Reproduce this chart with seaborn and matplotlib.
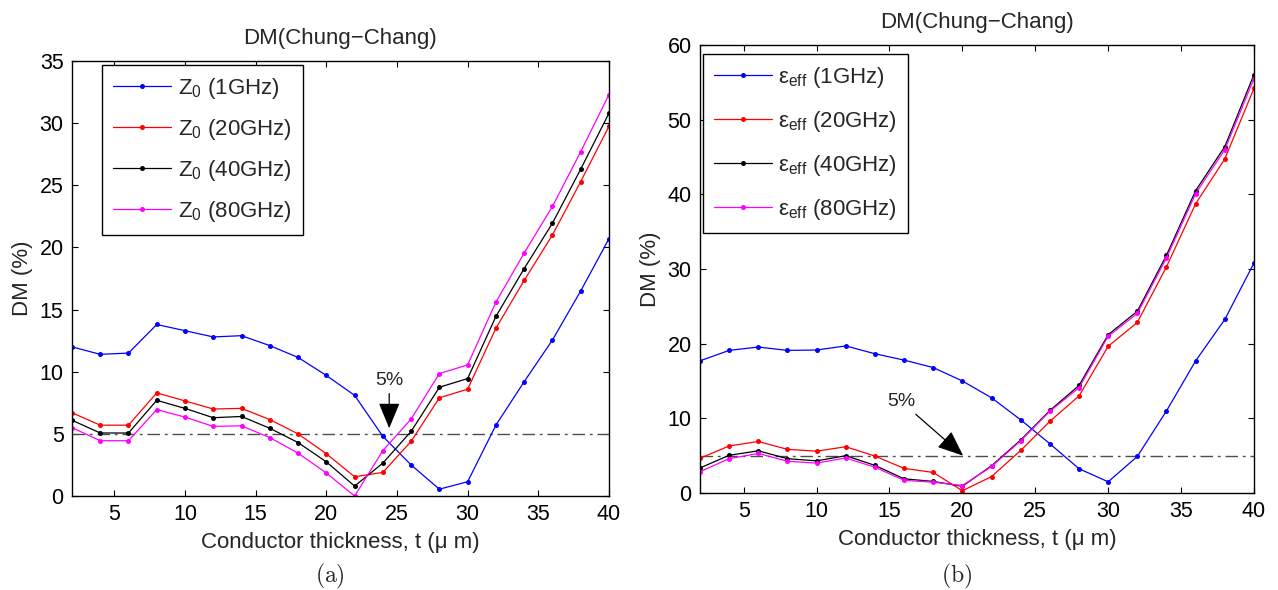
import matplotlib
matplotlib.use("Agg")
import matplotlib.pyplot as plt
import seaborn as sns

# ---------------- data ----------------
thickness = [2, 4, 6, 8, 10, 12, 14, 16, 18, 20, 22, 24, 26, 28, 30, 32, 34, 36, 38, 40]

z0_1ghz = [12.0, 11.4, 11.5, 13.8, 13.3, 12.8, 12.9, 12.1, 11.15, 9.7, 8.1,
           4.8, 2.5, 0.55, 1.15, 5.7, 9.2, 12.55, 16.5, 20.7]
z0_20ghz = [6.7, 5.7, 5.7, 8.3, 7.65, 7.0, 7.05, 6.15, 5.0, 3.4, 1.55,
            1.9, 4.4, 7.9, 8.6, 13.5, 17.35, 21.0, 25.3, 29.75]
z0_40ghz = [6.1, 5.07, 5.07, 7.7, 7.05, 6.3, 6.4, 5.45, 4.3, 2.75, 0.8,
            2.65, 5.2, 8.75, 9.45, 14.45, 18.3, 21.95, 26.3, 30.8]
z0_80ghz = [5.5, 4.45, 4.45, 6.95, 6.35, 5.6, 5.65, 4.7, 3.45, 1.85, 0.0,
            3.65, 6.2, 9.85, 10.55, 15.6, 19.55, 23.3, 27.7, 32.3]

eps_1ghz = [17.7, 19.1, 19.55, 19.1, 19.15, 19.7, 18.65, 17.8, 16.8, 15.0, 12.75,
            9.8, 6.6, 3.25, 1.5, 4.9, 11.0, 17.7, 23.25, 30.8]
eps_20ghz = [4.65, 6.3, 6.9, 5.85, 5.6, 6.2, 4.95, 3.3, 2.75, 0.3, 2.2,
             5.7, 9.6, 13.0, 19.65, 22.85, 30.3, 38.75, 44.75, 54.2]
eps_40ghz = [3.35, 5.05, 5.65, 4.6, 4.3, 5.0, 3.7, 1.9, 1.55, 0.9, 3.65,
             7.1, 11.05, 14.4, 21.2, 24.35, 31.85, 40.5, 46.4, 56.05]
eps_80ghz = [2.85, 4.6, 5.3, 4.25, 4.0, 4.7, 3.45, 1.7, 1.45, 1.0, 3.55,
             7.0, 10.95, 14.1, 21.0, 24.05, 31.5, 40.1, 46.0, 55.5]

freq_labels = ["1GHz", "20GHz", "40GHz", "80GHz"]
series_colors = ["#0000ff", "#ff0000", "#000000", "#ff00ff"]

x_ticks = [5, 10, 15, 20, 25, 30, 35, 40]
y_ticks_a = [0, 5, 10, 15, 20, 25, 30, 35]
y_ticks_b = [0, 10, 20, 30, 40, 50, 60]

title_text = "DM(Chung\u2212Chang)"
xlabel_text = "Conductor thickness, t (\u03bc m)"
ylabel_text = "DM (%)"

# ---------------- style ----------------
sns.set_style("ticks")
plt.rcParams["font.family"] = ["Liberation Sans", "DejaVu Sans"]
plt.rcParams["lines.scale_dashes"] = False
plt.rcParams["xtick.direction"] = "in"
plt.rcParams["ytick.direction"] = "in"
plt.rcParams["axes.edgecolor"] = "black"
plt.rcParams["xtick.color"] = "black"
plt.rcParams["ytick.color"] = "black"

FS_TICK = 15.5
FS = 16

fig = plt.figure(figsize=(12.78, 5.90), dpi=100)
ax_a = fig.add_axes([0.0563, 0.1593, 0.4202, 0.7373])
ax_b = fig.add_axes([0.5477, 0.1644, 0.4335, 0.7593])


def draw_panel(ax, series, labels, ylim, yticks, legend_anchor, spacing):
    for vals, lab, col in zip(series, labels, series_colors):
        sns.lineplot(x=thickness, y=vals, ax=ax, color=col, lw=0.9,
                     marker="o", markersize=3.6, mec=col, mew=0,
                     label=lab, sort=False)
    ax.axhline(5, color="0.3", lw=1.0, ls=(0, (9, 3.5, 2, 3.5)), zorder=1)
    ax.set_xlim(2, 40)
    ax.set_ylim(*ylim)
    ax.set_xticks(x_ticks)
    ax.set_yticks(yticks)
    ax.tick_params(axis="both", which="both", top=True, right=True,
                   direction="in", length=4.5, width=0.8, labelsize=FS_TICK, pad=6)
    for sp in ax.spines.values():
        sp.set_visible(True)
        sp.set_linewidth(1.0)
        sp.set_color("black")
    ax.set_title(title_text, fontsize=FS, pad=12)
    ax.set_xlabel(xlabel_text, fontsize=FS, labelpad=5)
    ax.set_ylabel(ylabel_text, fontsize=FS, labelpad=5)
    leg = ax.legend(loc="upper left", bbox_to_anchor=legend_anchor,
                    borderaxespad=0, fontsize=FS, frameon=True, fancybox=False,
                    handlelength=2.6, handletextpad=0.3, labelspacing=spacing,
                    borderpad=0.5)
    leg.get_frame().set_edgecolor("black")
    leg.get_frame().set_linewidth(1.0)
    leg.get_frame().set_alpha(1)


labels_a = ["Z$\\mathregular{_0}$ (" + f + ")" for f in freq_labels]
labels_b = ["\u03b5$\\mathregular{_{eff}}$ (" + f + ")" for f in freq_labels]

draw_panel(ax_a, [z0_1ghz, z0_20ghz, z0_40ghz, z0_80ghz], labels_a,
           (0, 35), y_ticks_a, (0.056, 0.991), 0.72)
draw_panel(ax_b, [eps_1ghz, eps_20ghz, eps_40ghz, eps_80ghz], labels_b,
           (0, 60), y_ticks_b, (0.005, 0.98), 0.85)

arrow_style = dict(arrowstyle="-|>,head_length=0.8,head_width=0.33",
                   mutation_scale=20, color="black", lw=0.9,
                   shrinkA=1, shrinkB=0)
ax_a.annotate("5%", xy=(24.45, 5.45), xytext=(24.45, 9.3), fontsize=14,
              ha="center", va="center", arrowprops=arrow_style)
ax_b.annotate("5%", xy=(20.05, 5.0), xytext=(15.8, 12.25), fontsize=14,
              ha="center", va="center", arrowprops=arrow_style)

fig.text(330 / 1278, 1 - 576 / 590, r"$\mathrm{(a)}$", math_fontfamily="cm",
         fontsize=17, ha="center", va="center")
fig.text(957 / 1278, 1 - 576 / 590, r"$\mathrm{(b)}$", math_fontfamily="cm",
         fontsize=17, ha="center", va="center")

fig.savefig("out.png", dpi=100)
